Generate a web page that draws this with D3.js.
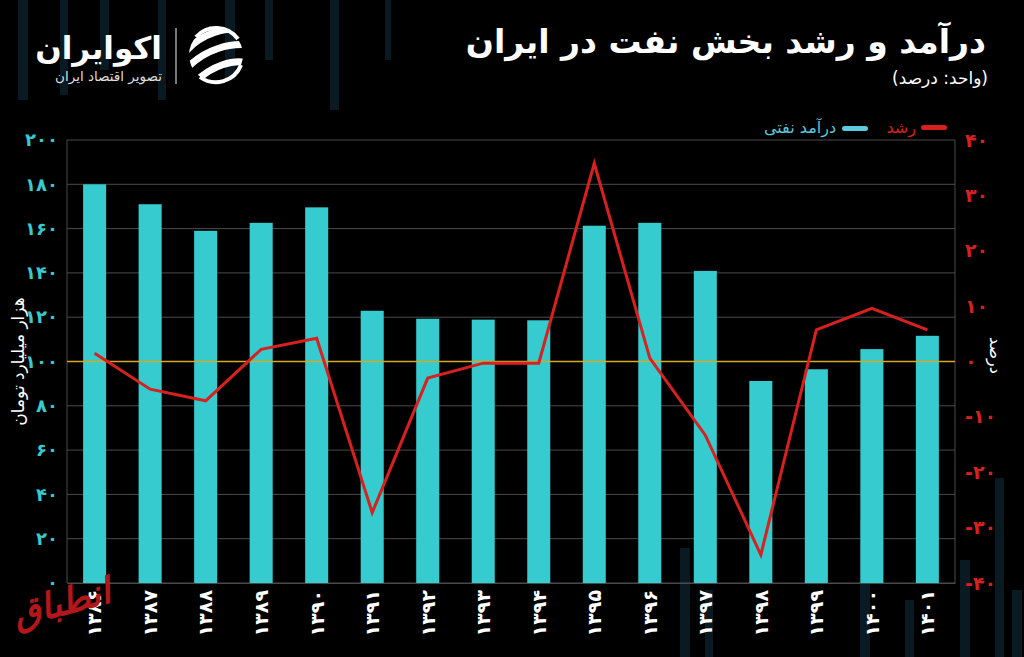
<!DOCTYPE html>
<html><head><meta charset="utf-8">
<script src="https://cdn.jsdelivr.net/npm/d3@7"></script>
<style>
html,body{margin:0;padding:0;background:#000;}
svg{display:block;}
text{font-family:"DejaVu Sans",sans-serif;}
</style></head>
<body>
<svg id="c" width="1024" height="657"></svg>
<script>
const years = ["۱۳۸۶","۱۳۸۷","۱۳۸۸","۱۳۸۹","۱۳۹۰","۱۳۹۱","۱۳۹۲","۱۳۹۳","۱۳۹۴","۱۳۹۵","۱۳۹۶","۱۳۹۷","۱۳۹۸","۱۳۹۹","۱۴۰۰","۱۴۰۱"];
const revenue = [180,171,159,162.6,169.6,122.9,119.3,118.9,118.6,161.3,162.6,140.9,91.2,96.5,105.6,111.6];
const growth = [1.5,-5.0,-7.1,2.2,4.2,-27.3,-3.0,-0.3,-0.3,35.8,0.6,-13.3,-34.9,5.7,9.6,5.7];
const leftTicks = [0,20,40,60,80,100,120,140,160,180,200];
const rightTicks = [-40,-30,-20,-10,0,10,20,30,40];
const title = "درآمد و رشد بخش نفت در ایران";
const subtitle = "(واحد: درصد)";
const legendRevenue = "درآمد نفتی";
const legendGrowth = "رشد";
const leftTitle = "هزار میلیارد تومان";
const rightTitle = "درصد";

const fa = n => String(Math.abs(n)).replace(/\d/g, d => "۰۱۲۳۴۵۶۷۸۹"[d]);
const W = 1024, H = 657;
const m = {l:67, r:69, t:140, b:74};
const svg = d3.select("#c");
const cyan = "#35cbcf", red = "#d8211f";

function rtext(g, xr, y, str, size, fill, weight){
  return g.append("text").attr("x",xr).attr("y",y).attr("direction","rtl").attr("text-anchor","start")
    .attr("fill",fill).attr("font-size",size).attr("font-weight",weight||"normal").text(str);
}

// faint background decoration
const deco = svg.append("g").attr("fill","#0a1a22");
[[18,0,10,100],[60,0,8,95],[100,0,9,70],[158,0,8,100],[225,0,10,80],[265,0,8,60],[330,0,9,110],[385,0,6,60],
 [680,548,10,109],[705,590,8,67],[860,520,10,137],[905,600,9,57],[960,560,10,97],[995,478,9,179],[1012,590,10,67]]
 .forEach(r=>deco.append("rect").attr("x",r[0]).attr("y",r[1]).attr("width",r[2]).attr("height",r[3]));

const x = d3.scaleBand().domain(years).range([m.l, W-m.r]).paddingInner(0.585).paddingOuter(0.29);
const yL = d3.scaleLinear().domain([0,200]).range([H-m.b, m.t]);
const yR = d3.scaleLinear().domain([-40,40]).range([H-m.b, m.t]);

// grid
svg.append("g").selectAll("line").data(leftTicks).join("line")
  .attr("x1",m.l).attr("x2",W-m.r).attr("y1",d=>yL(d)).attr("y2",d=>yL(d))
  .attr("stroke","#4a4a4a").attr("stroke-width",1);
svg.append("line").attr("x1",m.l).attr("x2",m.l).attr("y1",m.t).attr("y2",H-m.b).attr("stroke","#4a4a4a");
svg.append("line").attr("x1",W-m.r).attr("x2",W-m.r).attr("y1",m.t).attr("y2",H-m.b).attr("stroke","#4a4a4a");

// bars
svg.append("g").selectAll("rect").data(revenue).join("rect")
  .attr("x",(d,i)=>x(years[i])).attr("width",x.bandwidth())
  .attr("y",d=>yL(d)).attr("height",d=>yL(0)-yL(d)).attr("fill",cyan);

// zero line
svg.append("line").attr("x1",m.l).attr("x2",W-m.r).attr("y1",yR(0)).attr("y2",yR(0))
  .attr("stroke","#d6a823").attr("stroke-width",1.5);

// growth line
const line = d3.line().x((d,i)=>x(years[i])+x.bandwidth()/2).y(d=>yR(d));
svg.append("path").datum(growth).attr("d",line).attr("fill","none")
  .attr("stroke",red).attr("stroke-width",3).attr("stroke-linejoin","miter");

// left axis
const axL = svg.append("g").attr("transform",`translate(${m.l-6},0)`)
  .call(d3.axisLeft(yL).tickValues(leftTicks).tickSize(0).tickFormat(fa));
axL.select(".domain").remove();
axL.selectAll("text").attr("fill",cyan).attr("font-size",18).attr("font-weight","bold").attr("dy","0.32em");

// right axis
const axR = svg.append("g").attr("transform",`translate(${W-m.r+7},0)`)
  .call(d3.axisRight(yR).tickValues(rightTicks).tickSize(0).tickFormat(d=>(d<0?"-":"")+fa(d)));
axR.select(".domain").remove();
axR.selectAll("text").attr("fill",red).attr("font-size",19).attr("font-weight","bold").attr("dy","0.32em");

// x axis
const axX = svg.append("g").attr("transform",`translate(0,${H-m.b})`)
  .call(d3.axisBottom(x).tickSize(0));
axX.select(".domain").attr("stroke","#4a4a4a");
axX.selectAll("text").attr("fill","#fff").attr("font-size",19).attr("font-weight","bold")
  .attr("transform","rotate(-90)").attr("text-anchor","end").attr("x",-7).attr("y",0).attr("dy","0.36em");

// axis titles
svg.append("text").attr("transform",`translate(18,${yL(100)}) rotate(-90)`).attr("text-anchor","middle")
  .attr("fill","#fff").attr("font-size",17).attr("dy","0.35em").text(leftTitle);
svg.append("text").attr("transform",`translate(996,${yR(0)-6}) rotate(90)`).attr("text-anchor","middle")
  .attr("fill","#fff").attr("font-size",16).attr("dy","0.35em").text(rightTitle);

// title
rtext(svg, 986, 53, title, 33, "#fff", "bold");
rtext(svg, 988, 84, subtitle, 17, "#fff");

// legend
svg.append("rect").attr("x",921).attr("y",125).attr("width",26).attr("height",5).attr("rx",2.5).attr("fill",red);
rtext(svg, 916, 133, legendGrowth, 16, red);
svg.append("rect").attr("x",842).attr("y",126).attr("width",26).attr("height",5).attr("rx",2.5).attr("fill","#5ec8dc");
rtext(svg, 836, 133, legendRevenue, 16, "#5ec8dc");

// logo
const lg = svg.append("g");
rtext(lg, 162, 59, "اکوایران", 31, "#fff", "bold");
rtext(lg, 162, 81, "تصویر اقتصاد ایران", 13.5, "#ddd");
lg.append("line").attr("x1",176).attr("x2",176).attr("y1",28).attr("y2",84).attr("stroke","#ccc").attr("stroke-width",1.2);
const ic = lg.append("g").attr("transform","translate(216,55)");
ic.append("clipPath").attr("id","lc").append("circle").attr("r",27);
const icb = ic.append("g").attr("clip-path","url(#lc)").attr("fill","none").attr("stroke","#fff").attr("stroke-linecap","round");
icb.append("path").attr("d","M-30,-4 C-14,-22 10,-28 30,-26").attr("stroke-width",7);
icb.append("path").attr("d","M-28,12 C-10,-6 14,-12 32,-10").attr("stroke-width",7);
icb.append("path").attr("d","M-22,28 C-4,10 18,4 32,8").attr("stroke-width",7);
ic.append("path").attr("d","M-20,-18 A27,27 0 0,1 22,-16").attr("fill","none").attr("stroke","#fff").attr("stroke-width",4);
ic.append("path").attr("d","M-16,22 A27,27 0 0,0 25,10").attr("fill","none").attr("stroke","#fff").attr("stroke-width",4);

// watermark text
svg.append("text").attr("x",62).attr("y",615).attr("text-anchor","middle").attr("fill","#b3161b")
  .attr("font-size",36).attr("font-weight","bold").attr("font-style","italic")
  .attr("transform","rotate(-15,62,605)").text("انطباق");
</script>
</body></html>
